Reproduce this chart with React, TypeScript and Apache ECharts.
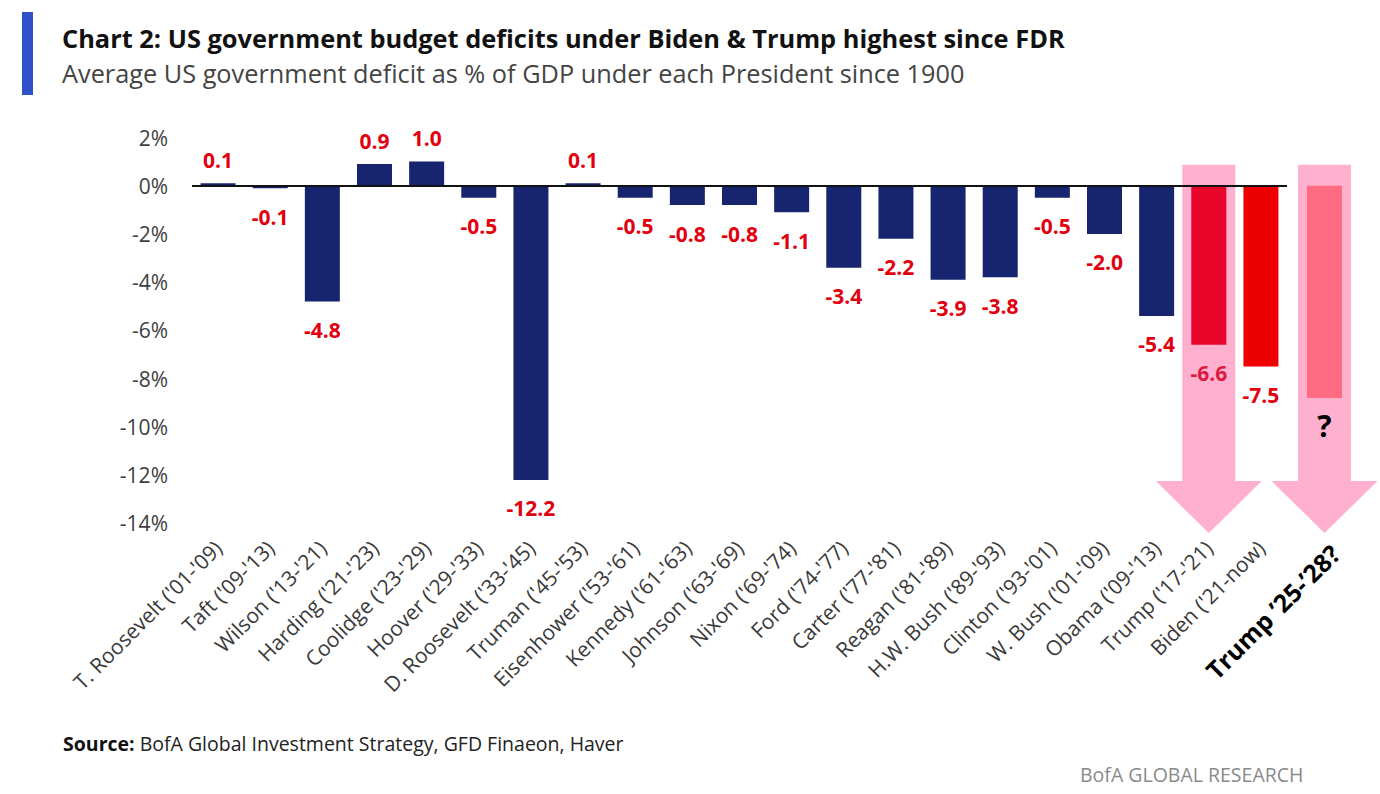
import React, { useEffect, useRef } from "react";
import * as echarts from "echarts";

const categories = [
  "T. Roosevelt ('01-'09)", "Taft ('09-'13)", "Wilson ('13-'21)", "Harding ('21-'23)",
  "Coolidge ('23-'29)", "Hoover ('29-'33)", "D. Roosevelt ('33-'45)", "Truman ('45-'53)",
  "Eisenhower ('53-'61)", "Kennedy ('61-'63)", "Johnson ('63-'69)", "Nixon ('69-'74)",
  "Ford ('74-'77)", "Carter ('77-'81)", "Reagan ('81-'89)", "H.W. Bush ('89-'93)",
  "Clinton ('93-'01)", "W. Bush ('01-'09)", "Obama ('09-'13)", "Trump ('17-'21)", "Biden ('21-now)",
];
const deficits = [0.1, -0.1, -4.8, 0.9, 1.0, -0.5, -12.2, 0.1, -0.5, -0.8, -0.8, -1.1, -3.4, -2.2, -3.9, -3.8, -0.5, -2.0, -5.4, -6.6, -7.5];
const futureCategory = ["Trump \u201925-\u201928?"];
const futureValue = [-8.8];
const yMin = -14;
const yMax = 2;
const yStep = 2;

const TITLE = "Chart 2: US government budget deficits under Biden & Trump highest since FDR";
const SUBTITLE = "Average US government deficit as % of GDP under each President since 1900";

const FONT = "'Open Sans', 'Noto Sans', sans-serif";
const NAVY = "#172570";
const LABEL_RED = "#E2000F";
const ARROW = "#FFB0CF";

export default function App() {
  const ref = useRef<HTMLDivElement>(null);
  useEffect(() => {
    if (!ref.current) return;
    const chart = echarts.init(ref.current, undefined, { renderer: "svg" });
    const colorFor = (name: string) =>
      name.startsWith("Trump") ? "#E8062B" : name.startsWith("Biden") ? "#EE0000" : NAVY;

    const mainData = deficits.map((v, i) => ({
      value: v,
      itemStyle: { color: colorFor(categories[i]) },
      label: {
        position: v >= 0 ? "top" : "bottom",
        distance: v >= 0 ? 13 : 18,
        color: categories[i].startsWith("Trump") ? "#DC1A3E" : LABEL_RED,
      },
    }));

    chart.setOption({
      animation: false,
      grid: [
        { left: 192, right: 93, top: 137.5, bottom: 794 - 523.3 },
        { left: 1298.5, right: 1380 - 1350.5, top: 137.5, bottom: 794 - 523.3 },
      ],
      xAxis: [
        {
          type: "category",
          gridIndex: 0,
          data: categories,
          axisLine: { show: false, onZero: false },
          axisTick: { show: false },
          axisLabel: {
            rotate: 45,
            interval: 0,
            margin: 21,
            fontFamily: FONT,
            fontSize: 21,
            color: "#3a3a3a",
          },
        },
        {
          type: "category",
          gridIndex: 1,
          data: futureCategory,
          axisLine: { show: false, onZero: false },
          axisTick: { show: false },
          axisLabel: {
            rotate: 45,
            interval: 0,
            margin: 15,
            verticalAlign: "top",
            lineHeight: 30,
            fontFamily: FONT,
            fontSize: 25,
            fontWeight: "bold",
            color: "#000",
          },
        },
      ],
      yAxis: [
        {
          type: "value",
          gridIndex: 0,
          min: yMin,
          max: yMax,
          interval: yStep,
          splitLine: { show: false },
          axisLine: { show: false },
          axisTick: { show: false },
          axisLabel: {
            formatter: (v: number) => `${v}%`,
            margin: 24,
            fontFamily: FONT,
            fontSize: 21,
            color: "#404040",
          },
        },
        {
          type: "value",
          gridIndex: 1,
          min: yMin,
          max: yMax,
          interval: yStep,
          show: false,
        },
      ],
      series: [
        {
          type: "bar",
          xAxisIndex: 0,
          yAxisIndex: 0,
          data: mainData,
          barWidth: 35,
          z: 3,
          label: {
            show: true,
            formatter: (p: any) => Number(p.value).toFixed(1),
            fontFamily: FONT,
            fontSize: 21,
            fontWeight: "bold",
          },
          markLine: {
            silent: true,
            symbol: "none",
            label: { show: false },
            lineStyle: { color: "#111", width: 2, type: "solid" },
            data: [{ yAxis: 0 }],
          },
        },
        {
          type: "bar",
          xAxisIndex: 1,
          yAxisIndex: 1,
          data: futureValue,
          barWidth: 35,
          z: 3,
          itemStyle: { color: "#FF6B80" },
          label: {
            show: true,
            position: "bottom",
            distance: 13,
            formatter: "?",
            fontFamily: FONT,
            fontSize: 30,
            fontWeight: "bold",
            color: "#000",
          },
        },
      ],
    });

    const arrowPoints = (cx: number, top: number, headStart: number, tip: number) => {
      const sw = 26.5;
      const hw = 53;
      return [
        [cx - sw, top], [cx + sw, top], [cx + sw, headStart], [cx + hw, headStart],
        [cx, tip], [cx - hw, headStart], [cx - sw, headStart],
      ];
    };
    const p1 = chart.convertToPixel({ xAxisIndex: 0, yAxisIndex: 0 }, [categories[19], 0.87]) as number[];
    const h1 = chart.convertToPixel({ xAxisIndex: 0, yAxisIndex: 0 }, [categories[19], -12.25]) as number[];
    const t1 = chart.convertToPixel({ xAxisIndex: 0, yAxisIndex: 0 }, [categories[19], -14.4]) as number[];
    const p2 = chart.convertToPixel({ xAxisIndex: 1, yAxisIndex: 1 }, [futureCategory[0], 0]) as number[];

    chart.setOption({
      graphic: [
        {
          type: "polygon",
          z: -10,
          silent: true,
          shape: { points: arrowPoints(p1[0], p1[1], h1[1], t1[1]) },
          style: { fill: ARROW },
        },
        {
          type: "polygon",
          z: -10,
          silent: true,
          shape: { points: arrowPoints(p2[0], p1[1], h1[1], t1[1]) },
          style: { fill: ARROW },
        },
        { type: "rect", left: 22, top: 12, shape: { width: 11, height: 83 }, style: { fill: "#3050C8" } },
        {
          type: "text",
          left: 62,
          top: 25,
          style: { text: TITLE, font: `bold 25.4px ${FONT}`, fill: "#111" },
        },
        {
          type: "text",
          left: 62,
          top: 60,
          style: { text: SUBTITLE, font: `25.3px ${FONT}`, fill: "#444" },
        },
        {
          type: "text",
          left: 63,
          top: 733,
          style: {
            text: "{b|Source:} BofA Global Investment Strategy, GFD Finaeon, Haver",
            font: `19.5px ${FONT}`,
            fill: "#222",
            rich: { b: { fontWeight: "bold", fontSize: 19.5, fontFamily: FONT, fill: "#111" } },
          },
        },
        {
          type: "text",
          left: 1080,
          top: 764,
          style: { text: "BofA GLOBAL RESEARCH", font: `19.5px ${FONT}`, fill: "#8a8a8a" },
        },
      ],
    });

    return () => chart.dispose();
  }, []);
  return (
    <div
      ref={ref}
      style={{ position: "fixed", left: 0, top: 0, width: 1380, height: 794, background: "#fff" }}
    />
  );
}
